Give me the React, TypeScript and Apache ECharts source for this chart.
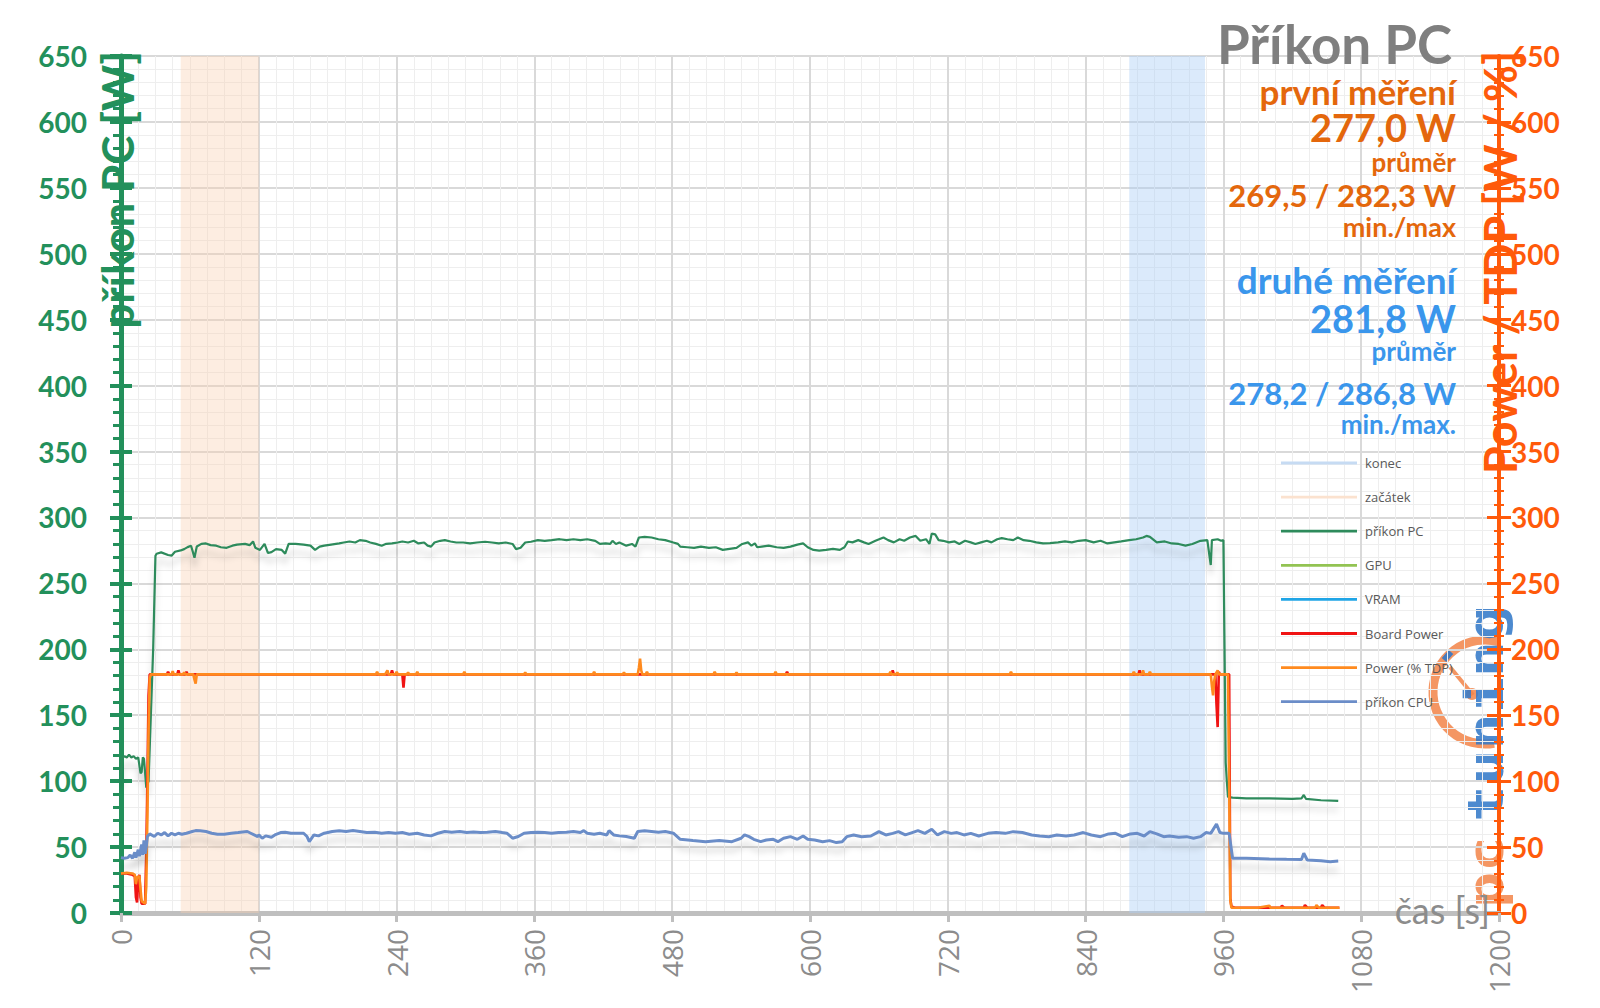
import React, { useEffect, useRef } from "react";
import * as echarts from "echarts";

// ---------- DATA (time [s], value) ----------
const pcPower: [number, number][] = [
  [0,101],[1,117],[3,119],[5,118],[7,120],[9,118],[11,119],[13,117],[15,118],[17,106],[18,107],[19,118],[20,117],[22,95],[24,100],[26,150],[28,200],[30,271],
  [31,272.5],[35,273.5],[41,271.5],[44,271],[47,274],[52,275],[55,276],[58,277.5],[61,278.5],[64,269.5],[66,278],[70,280],[74,280.3],[78,279],[83,278.6],[87,277.4],[92,277],[97,278.6],[101,279.4],[108,280],[112,279],[115,281.8],[117,277],[121,275.4],[125,280],[128,273],[131,273.7],[135,276],[140,275.4],[143,272.5],[146,280],[152,280],[159,279.4],[165,278.6],[169,275.4],[173,277.9],[177,278.6],[183,279.4],[190,280.3],[194,281],[199,281.8],[204,281],[208,282.8],[213,282.3],[217,281],[222,280],[227,278.6],[231,280],[236,280.3],[241,281],[245,281.8],[250,281],[255,282.3],[259,280.3],[264,281],[267,278.6],[270,277.9],[273,281],[278,282.3],[282,282.8],[287,281.8],[292,281],[298,281],[304,280.3],[310,281],[317,281.6],[323,281],[329,280.3],[335,281],[341,279.9],[344,276],[348,277],[352,281],[357,281.6],[363,282.8],[369,282.3],[375,282.8],[382,283.5],[388,282.8],[394,283.5],[400,282.8],[406,283.5],[413,282.3],[417,279.9],[422,280.3],[426,279.9],[428,282.3],[431,279.9],[434,281],[440,278.6],[445,279.9],[448,277.9],[451,284.8],[456,285.3],[462,284.8],[468,283.5],[474,282.8],[481,281],[485,280],
  [487,277.9],[493,277.4],[499,276.9],[505,277.9],[512,276.9],[518,277.4],[524,275.4],[530,276.2],[536,276.9],[541,279.9],[546,281.1],[549,278.6],[552,280.3],[554,277.4],[558,277.9],[564,278.6],[571,277.4],[577,276.9],[583,277.9],[589,279.4],[594,280.3],[598,277.4],[603,275.4],[608,274.9],[614,275.4],[620,276.2],[626,275.4],[630,277.4],[633,281.8],[637,281.1],[642,282.8],[647,281.1],[651,279.9],[657,282.3],[664,284.8],[668,282.8],[673,281.1],[678,283.5],[682,282.3],[687,284.8],[692,286],[696,282.3],[701,283.5],[704,279.9],[706,287.7],[709,287.2],[712,282.8],[716,282.3],[721,281.1],[726,281.8],[730,279.9],[735,282.3],[740,281.1],[744,279.9],[749,281.1],[754,282.3],[758,281.1],[763,283.5],[767,284.3],[772,283.5],[777,282.8],[781,284.8],[786,282.8],[791,282.3],[797,281.1],[803,280.3],[809,280.6],[816,281.1],[822,281.8],[828,281.1],[834,282.3],[840,282.8],[847,281.1],[853,282.3],[859,280.3],[865,281.1],[871,281.8],[878,282.8],[884,283.5],[890,284.8],[893,286],[896,285.3],[902,281.1],[909,281.8],[915,280.3],[921,279.9],[927,278.6],[933,279.9],[940,282.3],[946,282.8],[948,270],[949,263.9],[950,282.8],[955,283.5],[958,282.3],[960,282.8],[961,200],[962,114],[963,100],[964,88],[968,87.5],[980,87],[1000,87],[1020,86.5],[1028,87],[1030,89.5],[1032,86.5],[1045,85.5],[1060,85]
];

const cpuPower: [number, number][] = [
  [0,42],[3,41.5],[6,42],[8,44],[10,41.5],[12,46],[13,42],[15,48],[16,43],[18,52],[19,44],[20,55],[21,45],[22,50],[23,58],
  [25,60],[29,58],[32,60.5],[35,59.2],[38,61],[41,58.5],[44,60.5],[47,59.2],[50,60.5],[53,59.7],[57,60.5],[62,61.8],[65,62.5],[69,62.3],[74,61.8],[79,60.5],[84,59.7],[90,59.7],[96,60.5],[102,61],[110,61.8],[113,60.5],[116,59.2],[119,58],[120,59.2],[123,56.7],[126,58.5],[131,57.5],[134,59.2],[139,61],[143,61.3],[148,60.5],[154,60.5],[159,60.5],[162,58],[164,54.2],[168,59.2],[172,58.5],[177,60.5],[184,61.8],[190,62.3],[196,61.8],[202,62.5],[208,61.8],[214,61],[221,61.3],[227,60.5],[233,61],[239,60.5],[245,61],[251,59.7],[258,60.5],[264,59.2],[270,58.5],[276,60.5],[282,61.8],[288,61.3],[295,61.8],[301,61],[307,61.5],[313,61],[319,61.3],[326,61.8],[332,61],[336,60.5],[341,56.7],[346,58],[351,60.5],[357,61],[363,61.3],[369,61],[375,60.5],[381,61],[388,61.3],[394,61.8],[400,61],[403,62.5],[406,60.5],[412,59.7],[417,60.5],[423,59.2],[425,62.5],[429,59.2],[434,58.5],[440,58],[447,56.7],[450,61.8],[456,62.3],[462,61.8],[468,61.3],[474,61.8],[481,60.5],
  [487,55.9],[498,54.9],[509,54.1],[521,54.9],[532,54.1],[540,56.7],[543,59.2],[547,57.9],[551,55.9],[557,54.1],[562,55.4],[568,55.9],[572,54.1],[577,56.7],[583,57.9],[589,55.9],[594,58.4],[598,55.9],[604,55.4],[611,54.1],[617,54.9],[623,53.4],[628,54.1],[632,57.9],[638,59.2],[645,57.9],[653,58.4],[660,61.7],[666,59.2],[672,60.4],[677,61.7],[683,59.2],[689,61],[694,62.5],[700,60.4],[706,63.5],[711,59.2],[717,61.7],[723,60.4],[728,61],[734,59.2],[740,60.4],[747,58.4],[755,60.4],[762,61],[770,60.4],[777,61.7],[785,61],[793,59.2],[800,58.4],[808,57.9],[815,59.2],[823,58.4],[830,59.2],[838,61],[845,59.2],[853,57.9],[860,60],[866,60.4],[872,57.9],[879,60],[885,60.4],[891,58.4],[896,61.7],[902,60],[908,57.9],[913,58.4],[921,57.4],[928,57.9],[934,56.7],[940,57.9],[945,61],[949,60.4],[954,67.5],[957,61],[960,60.4],[965,60.4],[968,41.5],[980,41.5],[1000,41],[1015,40.7],[1028,40.5],[1030,45.3],[1033,40.2],[1045,39.7],[1053,38.9],[1060,39.4]
];

const boardPower: [number, number][] = [
  [0,30],[5,30],[10,29],[12,28],[13,12],[14,8],[15,26],[16,29],[17,12],[18,7],[21,7],[22,45],[23,100],[24,165],[25,181],[40,181],[41,183],[42,181],[49,181],[50,184],[51,181],[56,181],[57,183],[58,181],[235,181],[236,184],[237,181],[245,181],[246,171],[247,181],[579,181],[580,183],[581,181],[671,181],[672,184],[673,181],[886,181],[887,184],[888,181],[953,181],[954,158],[955,141],[956,183],[957,181],[965,181],[966,11],[967,5],[970,4],[1010,4],[1011,5.5],[1013,4],[1030,4],[1031,6],[1033,4],[1045,4],[1046,6],[1048,4],[1061,4]
];

const tdpPower: [number, number][] = [
  [0,30],[5,30.5],[10,30],[12,29],[13,22],[14,27],[16,28],[17,18],[18,9],[21,7],[22,20],[23,75],[24,140],[25,178],[26,181],[44,181],[45,183.5],[46,181],[54,181],[55,182.5],[56,181],[63,181],[64,177],[65,174],[66,181],[222,181],[223,183],[224,181],[230,181],[232,184],[233,181],[239,181],[240,183],[241,181],[249,181],[250,182.5],[251,181],[257,181],[258,183],[259,181],[298,181],[299,183],[300,181],[351,181],[352,182.5],[353,181],[411,181],[412,183],[413,181],[437,181],[438,182.5],[439,181],[450,181],[451,186],[452,193],[453,184],[454,181],[457,181],[458,183],[459,181],[516,181],[517,183],[518,181],[535,181],[536,182.5],[537,181],[569,181],[570,183],[571,181],[669,181],[670,183],[671,181],[675,181],[676,182.5],[677,181],[774,181],[775,183],[776,181],[881,181],[882,183],[883,181],[889,181],[890,184],[891,181],[895,181],[896,183],[897,181],[949,181],[950,172],[951,165],[952,176],[953,181],[955,184],[956,181],[964,181],[965,100],[966,10],[967,4],[990,4],[1000,5.5],[1001,4],[1040,4],[1041,6],[1043,4],[1061,4]
];

const gpuPower: [number, number][] = [];
const vramPower: [number, number][] = [];

const startBand: [number, number] = [52, 120];
const endBand: [number, number] = [878, 944];

const xTickInterval = 120;
const yMax = 650;
const yInterval = 50;

const legendNames = ["konec", "začátek", "příkon PC", "GPU", "VRAM", "Board Power", "Power (% TDP)", "příkon CPU"];

const firstRun = ["první měření", "277,0 W", "průměr", "269,5 / 282,3 W", "min./max"];
const secondRun = ["druhé měření", "281,8 W", "průměr", "278,2 / 286,8 W", "min./max."];

// ---------- STYLE ----------
const GREEN = "#23905B";
const ORANGE_AX = "#FF5A0A";
const ORANGE_TXT = "#E4670C";
const BLUE_TXT = "#3A96EC";
const GRAY = "#8C8C8C";
const FONT = "Lato, 'Open Sans', sans-serif";
const LEGEND_ICON = "path://M0,0L0,0M0,5.6L76,5.6L76,8.4L0,8.4ZM76,14L76,14";

export default function App() {
  const ref = useRef<HTMLDivElement>(null);

  useEffect(() => {
    if (!ref.current) return;
    const chart = echarts.init(ref.current, undefined, { renderer: "svg" });

    const lineShadow = { shadowColor: "rgba(0,0,0,0.18)", shadowBlur: 6, shadowOffsetY: 9 };

    const textLine = (text: string, y: number, size: number, color: string, weight = "bold") => ({
      type: "text",
      x: 1456,
      y,
      z: 100,
      style: {
        text,
        fill: color,
        font: `${weight} ${size}px ${FONT}`,
        align: "right",
        textAlign: "right",
        verticalAlign: "middle",
        textVerticalAlign: "middle",
      },
    });

    const firstY = [91, 127, 162, 195, 226];
    const firstS = [35, 38, 26, 31, 27];
    const secondY = [279, 318, 351, 393, 424];
    const secondS = [37, 38, 26, 31, 26];

    const logoOrange = "rgba(242,132,72,0.85)";
    const logoFont = `bold 50px 'DejaVu Sans Mono', monospace`;

    const graphics: any[] = [
      {
        type: "text", x: 1452, y: 43, z: 100,
        style: { text: "Příkon PC", fill: "#7F7F7F", font: `bold 53px ${FONT}`, align: "right", textAlign: "right", verticalAlign: "middle", textVerticalAlign: "middle" },
      },
      ...firstRun.map((t, i) => textLine(t, firstY[i], firstS[i], ORANGE_TXT)),
      ...secondRun.map((t, i) => textLine(t, secondY[i], secondS[i], BLUE_TXT)),
      {
        type: "text", x: 117, y: 51, rotation: Math.PI / 2, z: 100,
        style: { text: "příkon PC [W]", fill: GREEN, font: `bold 44px ${FONT}`, align: "right", textAlign: "right", verticalAlign: "middle", textVerticalAlign: "middle" },
      },
      {
        type: "text", x: 1500, y: 51, rotation: Math.PI / 2, z: 100,
        style: { text: "Power / TDP [W / %]", fill: ORANGE_AX, font: `bold 45px ${FONT}`, align: "right", textAlign: "right", verticalAlign: "middle", textVerticalAlign: "middle" },
      },
      {
        type: "text", x: 1490, y: 910, z: 100,
        style: { text: "čas [s]", fill: GRAY, font: `36px ${FONT}`, align: "right", textAlign: "right", verticalAlign: "middle", textVerticalAlign: "middle" },
      },
      // logo
      {
        type: "group", z: 90, silent: true,
        children: [
          { type: "arc", shape: { cx: 1485, cy: 692, r: 52, startAngle: (80 * Math.PI) / 180, endAngle: (285 * Math.PI) / 180, clockwise: true }, style: { stroke: logoOrange, lineWidth: 9, fill: "none" } },
          { type: "line", shape: { x1: 1473, y1: 695, x2: 1450, y2: 667 }, style: { stroke: logoOrange, lineWidth: 4 } },
          { type: "circle", shape: { cx: 1472, cy: 694, r: 6 }, style: { fill: logoOrange } },
          { type: "line", shape: { x1: 1444, y1: 660, x2: 1451, y2: 652 }, style: { stroke: "rgba(50,120,200,0.9)", lineWidth: 6 } },
          {
            type: "text", x: 1486, y: 605, rotation: Math.PI / 2, scaleX: 1.2,
            style: { text: "tuning", fill: "rgba(52,122,200,0.88)", font: logoFont, align: "right", textAlign: "right", verticalAlign: "middle", textVerticalAlign: "middle" },
          },
          {
            type: "text", x: 1486, y: 908, rotation: Math.PI / 2, scaleX: 1.2,
            style: { text: "pc", fill: logoOrange, font: logoFont, align: "left", textAlign: "left", verticalAlign: "middle", textVerticalAlign: "middle" },
          },
        ],
      },
    ];

    const yBase = { type: "value", min: 0, max: yMax, interval: yInterval };

    const option: any = {
      animation: false,
      backgroundColor: "#ffffff",
      grid: { left: 121, right: 101, top: 56, bottom: 95, containLabel: false },
      xAxis: {
        type: "value",
        min: 0,
        max: 1200,
        interval: xTickInterval,
        axisLine: { show: true, onZero: false, lineStyle: { color: "#BFBFBF", width: 5 } },
        axisTick: { show: true, length: 9, lineStyle: { color: "#BFBFBF", width: 3 } },
        minorTick: { show: false, splitNumber: 8 },
        axisLabel: { rotate: 90, color: GRAY, fontSize: 28, fontFamily: "'Open Sans', sans-serif", margin: 16, formatter: (v: number) => String(v) },
        splitLine: { show: true, lineStyle: { color: "#D9D9D9", width: 2 } },
        minorSplitLine: { show: true, lineStyle: { color: "#EEEEEE", width: 1 } },
      },
      yAxis: [
        {
          ...yBase,
          position: "left",
          axisLine: { show: true, onZero: false, lineStyle: { color: GREEN, width: 5 } },
          axisTick: { show: true, length: 11, lineStyle: { color: GREEN, width: 4 } },
          minorTick: { show: true, splitNumber: 5, length: 8, lineStyle: { color: GREEN, width: 3 } },
          axisLabel: { color: GREEN, fontSize: 28, fontWeight: "bold", fontFamily: FONT, margin: 34 },
          splitLine: { show: true, lineStyle: { color: "#D9D9D9", width: 2 } },
          minorSplitLine: { show: true, lineStyle: { color: "#EEEEEE", width: 1 } },
        },
        {
          ...yBase,
          position: "right",
          axisLine: { show: true, onZero: false, lineStyle: { color: ORANGE_AX, width: 4 } },
          axisTick: { show: true, length: 12, lineStyle: { color: ORANGE_AX, width: 3 } },
          minorTick: { show: true, splitNumber: 5, length: 5, lineStyle: { color: ORANGE_AX, width: 2 } },
          axisLabel: { color: ORANGE_AX, fontSize: 28, fontWeight: "bold", fontFamily: FONT, margin: 12 },
          splitLine: { show: false },
        },
        {
          ...yBase,
          position: "left",
          axisLine: { show: false },
          axisTick: { show: true, inside: true, length: 11, lineStyle: { color: GREEN, width: 4 } },
          minorTick: { show: false },
          axisLabel: { show: false },
          splitLine: { show: false },
        },
        {
          ...yBase,
          position: "right",
          axisLine: { show: false },
          axisTick: { show: true, inside: true, length: 12, lineStyle: { color: ORANGE_AX, width: 3 } },
          minorTick: { show: true, splitNumber: 5, length: 5, lineStyle: { color: ORANGE_AX, width: 2 } },
          axisLabel: { show: false },
          splitLine: { show: false },
        },
      ],
      legend: {
        data: legendNames.map((name) => ({ name, icon: LEGEND_ICON })),
        orient: "vertical",
        left: 1276,
        top: 451,
        itemWidth: 76,
        itemHeight: 14,
        itemGap: 20.1,
        textStyle: { color: "#595959", fontSize: 13, fontFamily: "'Open Sans', sans-serif", padding: [0, 0, 0, 3] },
        selectedMode: false,
      },
      series: [
        {
          name: "konec", type: "line", data: [], symbol: "none",
          itemStyle: { color: "#C6DBF3" }, lineStyle: { color: "#C6DBF3", width: 2.5 },
          markArea: { silent: true, itemStyle: { color: "rgba(170,205,245,0.42)" }, data: [[{ xAxis: endBand[0] }, { xAxis: endBand[1] }]] },
        },
        {
          name: "začátek", type: "line", data: [], symbol: "none",
          itemStyle: { color: "#FBE2CF" }, lineStyle: { color: "#FBE2CF", width: 2.5 },
          markArea: { silent: true, itemStyle: { color: "rgba(250,208,175,0.38)" }, data: [[{ xAxis: startBand[0] }, { xAxis: startBand[1] }]] },
        },
        {
          name: "příkon PC", type: "line", data: pcPower, symbol: "none", yAxisIndex: 0,
          itemStyle: { color: "#2E8B5C" }, lineStyle: { color: "#2E8B5C", width: 2.2, ...lineShadow },
        },
        {
          name: "GPU", type: "line", data: gpuPower, symbol: "none", yAxisIndex: 1,
          itemStyle: { color: "#92C352" }, lineStyle: { color: "#92C352", width: 2.5 },
        },
        {
          name: "VRAM", type: "line", data: vramPower, symbol: "none", yAxisIndex: 1,
          itemStyle: { color: "#1FA5E6" }, lineStyle: { color: "#1FA5E6", width: 2.5 },
        },
        {
          name: "Board Power", type: "line", data: boardPower, symbol: "none", yAxisIndex: 1,
          itemStyle: { color: "#F01414" }, lineStyle: { color: "#F01414", width: 2.6 },
        },
        {
          name: "Power (% TDP)", type: "line", data: tdpPower, symbol: "none", yAxisIndex: 1,
          itemStyle: { color: "#FF8A1E" }, lineStyle: { color: "#FF8A1E", width: 2.6 },
        },
        {
          name: "příkon CPU", type: "line", data: cpuPower, symbol: "none", yAxisIndex: 0,
          itemStyle: { color: "#6B8DC8" }, lineStyle: { color: "#6B8DC8", width: 3, ...lineShadow },
        },
      ],
      graphic: graphics,
    };

    chart.setOption(option);
    return () => chart.dispose();
  }, []);

  return (
    <div
      ref={ref}
      style={{ position: "fixed", left: 0, top: 0, width: 1600, height: 1008, background: "#fff" }}
    />
  );
}
